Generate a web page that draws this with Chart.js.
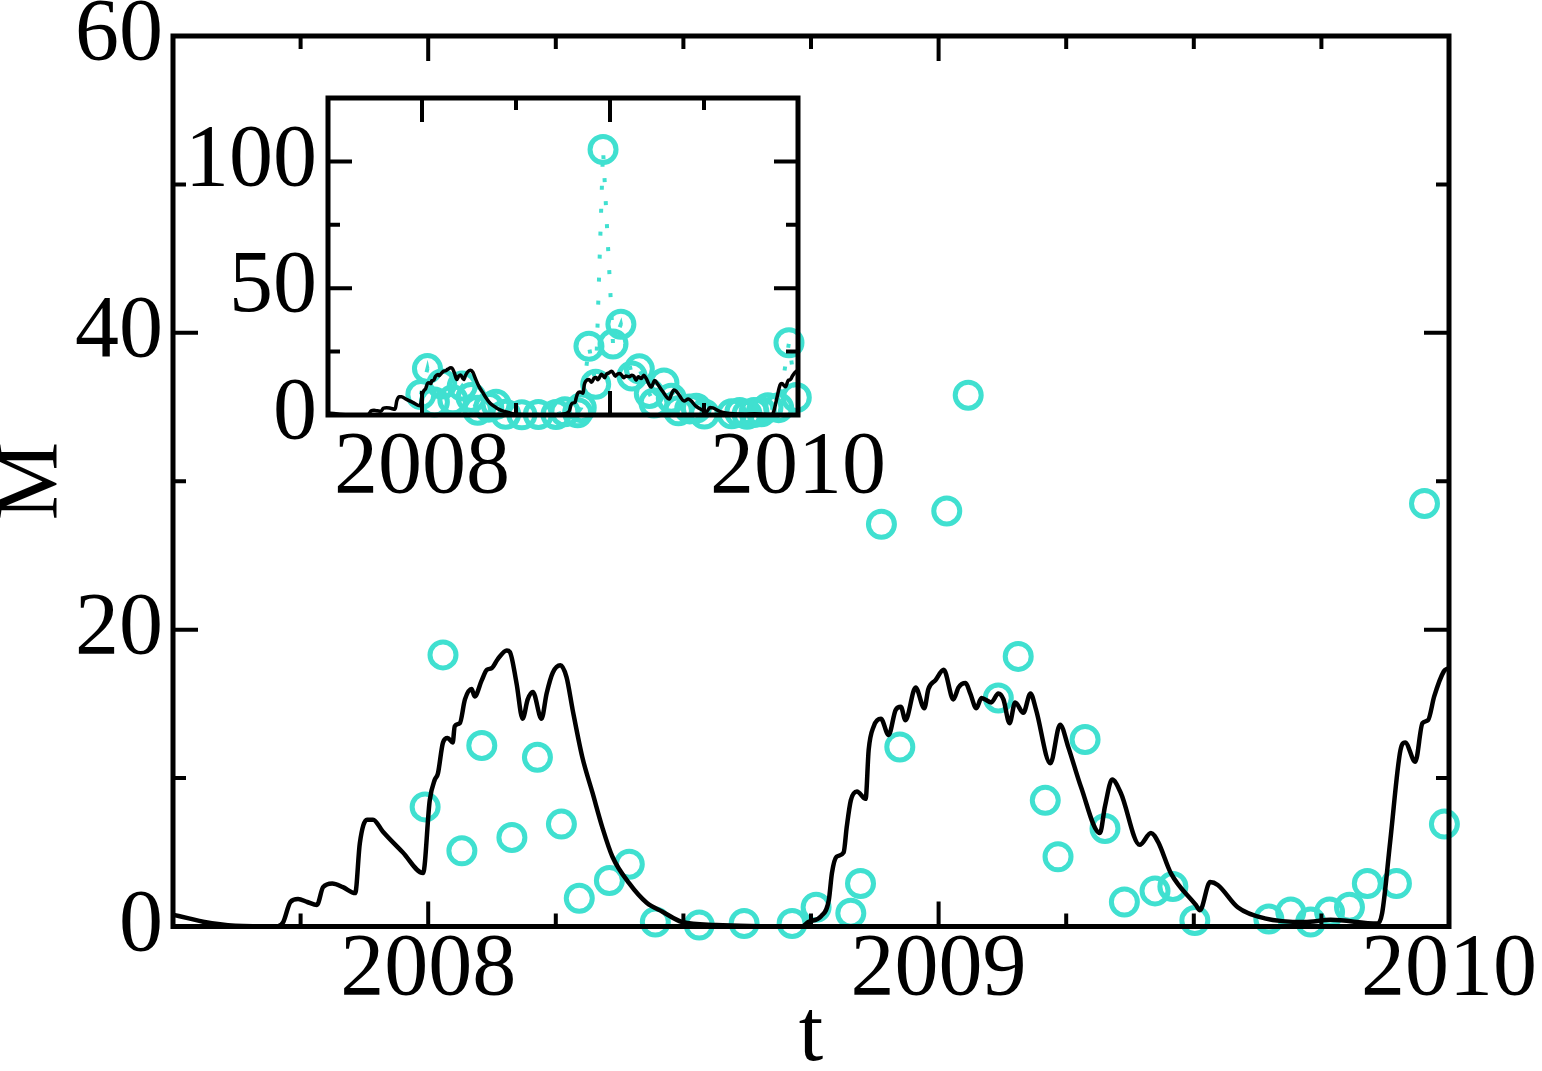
<!DOCTYPE html>
<html>
<head>
<meta charset="utf-8">
<title>M vs t</title>
<script src="https://cdn.jsdelivr.net/npm/chart.js@4.4.1/dist/chart.umd.min.js"></script>
<style>
  html, body { margin: 0; padding: 0; background: #fff; }
  #wrap { position: relative; width: 1542px; height: 1071px; overflow: hidden; }
  #mainChart { position: absolute; left: 0; top: 0; }
  #insetChart { position: absolute; left: 150px; top: 60px; }
</style>
</head>
<body>
<div id="wrap">
  <canvas id="mainChart" width="1542" height="1071"></canvas>
  <canvas id="insetChart" width="760" height="460"></canvas>
</div>
<script>
// model curve (black line)
const modelT = [2007.501, 2007.531, 2007.559, 2007.622, 2007.704, 2007.716, 2007.730, 2007.745, 2007.763, 2007.782, 2007.794,
  2007.812, 2007.833, 2007.857, 2007.866, 2007.880, 2007.892, 2007.911, 2007.950, 2007.990, 2008.003,
  2008.013, 2008.019, 2008.029, 2008.038, 2008.048, 2008.052, 2008.062, 2008.072, 2008.085, 2008.091,
  2008.105, 2008.115, 2008.124, 2008.136, 2008.154, 2008.160, 2008.173, 2008.185, 2008.195, 2008.205,
  2008.222, 2008.232, 2008.244, 2008.259, 2008.271, 2008.283, 2008.302, 2008.322, 2008.341, 2008.361,
  2008.394, 2008.428, 2008.459, 2008.498, 2008.564, 2008.629, 2008.732, 2008.745, 2008.770, 2008.785,
  2008.791, 2008.800, 2008.814, 2008.820, 2008.828, 2008.840, 2008.857, 2008.863, 2008.873, 2008.887,
  2008.902, 2008.916, 2008.926, 2008.935, 2008.955, 2008.972, 2008.980, 2008.994, 2009.010, 2009.029,
  2009.039, 2009.053, 2009.062, 2009.074, 2009.084, 2009.103, 2009.117, 2009.127, 2009.139, 2009.150,
  2009.166, 2009.180, 2009.191, 2009.219, 2009.238, 2009.254, 2009.279, 2009.316, 2009.326, 2009.340,
  2009.357, 2009.394, 2009.416, 2009.430, 2009.455, 2009.504, 2009.512, 2009.532, 2009.547, 2009.586,
  2009.639, 2009.717, 2009.768, 2009.860, 2009.869, 2009.885, 2009.905, 2009.914, 2009.934, 2009.948,
  2009.959, 2009.971, 2009.990, 2009.998];
const modelM = [0.78, 0.55, 0.32, 0.05, 0.0, 0.3, 1.65, 1.85, 1.65, 1.45, 2.65,
  2.9, 2.65, 2.25, 5.6, 7.2, 7.2, 6.4, 5.0, 3.6, 8.5,
  9.9, 10.3, 12.4, 12.7, 12.4, 13.5, 13.7, 15.3, 16.0, 15.5,
  16.6, 17.3, 17.4, 18.0, 18.6, 18.5, 16.4, 14.0, 15.3, 15.8,
  14.0, 15.7, 17.1, 17.6, 16.8, 14.6, 11.4, 9.0, 6.7, 4.7,
  2.9, 1.6, 1.0, 0.3, 0.1, 0.03, 0.0, 0.3, 0.7, 1.8,
  3.6, 4.7, 5.0, 6.7, 8.5, 9.1, 8.6, 11.9, 13.5, 14.0,
  12.9, 14.6, 14.8, 13.9, 16.1, 14.7, 16.0, 16.6, 17.3, 15.3,
  16.1, 16.4, 15.7, 14.7, 15.4, 15.1, 15.7, 15.3, 13.7, 15.1,
  14.4, 15.7, 14.6, 11.0, 13.6, 12.1, 9.4, 6.3, 8.1, 9.9,
  9.0, 5.5, 6.3, 5.7, 3.6, 1.45, 1.1, 3.0, 2.8, 1.3,
  0.55, 0.3, 0.45, 0.2, 0.9, 5.8, 11.9, 12.4, 11.1, 13.7,
  13.9, 15.5, 17.2, 17.4];

// observations (turquoise circles)
const obsT = [2007.994, 2008.029, 2008.066, 2008.105, 2008.164, 2008.214, 2008.261, 2008.296, 2008.355, 2008.394,
  2008.445, 2008.531, 2008.619, 2008.713, 2008.760, 2008.828, 2008.847, 2008.888, 2008.924, 2008.963,
  2009.016, 2009.058, 2009.117, 2009.156, 2009.209, 2009.234, 2009.287, 2009.326, 2009.364, 2009.424,
  2009.459, 2009.502, 2009.647, 2009.690, 2009.729, 2009.766, 2009.805, 2009.840, 2009.897, 2009.952,
  2009.991];
const obsM = [8.06, 18.3, 5.1, 12.2, 6.0, 11.4, 6.9, 1.9, 3.1, 4.2,
  0.3, 0.1, 0.2, 0.2, 1.3, 0.9, 2.9, 27.1, 12.1, 104.7,
  28.0, 35.8, 15.4, 18.2, 8.5, 4.7, 12.6, 6.6, 1.65, 2.4,
  2.7, 0.4, 0.5, 0.98, 0.3, 0.98, 1.3, 2.9, 2.9, 28.5,
  6.9];

// axes
const mainXLabels = [2008, 2009, 2010];
const mainXMinor = [2007.75, 2008.25, 2008.5, 2008.75, 2009.25, 2009.5, 2009.75];
const mainYLabels = [0, 20, 40, 60];
const mainYMinor = [10, 30, 50];
const insetXLabels = [2008, 2010];
const insetXMajor = [2008, 2009, 2010];
const insetXMinor = [2008.5, 2009.5];
const insetYLabels = [0, 50, 100];
const insetYMinor = [25, 75];

const TURQ = '#40E0D0';
const SERIF = "'Liberation Serif', 'Times New Roman', serif";

Chart.defaults.font.family = SERIF;
Chart.defaults.color = '#000';

const modelPts = modelT.map((t, i) => ({ x: t, y: modelM[i] }));
const obsPts = obsT.map((t, i) => ({ x: t, y: obsM[i] }));

// inward ticks on all four sides + frame
const frameTicks = (o) => ({
  id: 'frameTicks',
  beforeDraw(chart) {
    const a = chart.chartArea, ctx = chart.ctx;
    ctx.save();
    ctx.fillStyle = '#fff';
    ctx.fillRect(a.left, a.top, a.right - a.left, a.bottom - a.top);
    ctx.restore();
  },
  afterDatasetsDraw(chart) {
    const { ctx, chartArea: a, scales: { x, y } } = chart;
    ctx.save();
    ctx.strokeStyle = '#000';
    ctx.lineCap = 'butt';
    ctx.lineWidth = o.tickWidth;
    const xt = (vals, len) => vals.forEach(v => {
      const p = x.getPixelForValue(v);
      ctx.beginPath();
      ctx.moveTo(p, a.bottom); ctx.lineTo(p, a.bottom - len);
      ctx.moveTo(p, a.top); ctx.lineTo(p, a.top + len);
      ctx.stroke();
    });
    const yt = (vals, len) => vals.forEach(v => {
      const p = y.getPixelForValue(v);
      ctx.beginPath();
      ctx.moveTo(a.left, p); ctx.lineTo(a.left + len, p);
      ctx.moveTo(a.right, p); ctx.lineTo(a.right - len, p);
      ctx.stroke();
    });
    xt(o.xMajor, o.major); xt(o.xMinor, o.minor);
    yt(o.yMajor, o.major); yt(o.yMinor, o.minor);
    ctx.lineWidth = o.frameWidth;
    ctx.lineJoin = 'miter';
    ctx.strokeRect(a.left, a.top, a.right - a.left, a.bottom - a.top);
    ctx.restore();
  }
});

const fixTicks = vals => scale => { scale.ticks = vals.map(v => ({ value: v })); };

// main chart
new Chart(document.getElementById('mainChart'), {
  type: 'line',
  data: {
    datasets: [
      {
        data: modelPts, borderColor: '#000', borderWidth: 4.5, pointRadius: 0,
        cubicInterpolationMode: 'monotone', borderJoinStyle: 'round', fill: false, order: 0
      },
      {
        data: obsPts, showLine: false, pointRadius: 13, pointHoverRadius: 13,
        pointBorderWidth: 5, pointBorderColor: TURQ, pointBackgroundColor: 'rgba(0,0,0,0)',
        borderColor: TURQ, clip: false, order: 1
      }
    ]
  },
  options: {
    responsive: false, animation: false, events: [],
    layout: { padding: { left: 0, top: 36, right: 93, bottom: 0 } },
    plugins: { legend: { display: false }, tooltip: { enabled: false } },
    scales: {
      x: {
        type: 'linear', min: 2007.5, max: 2010,
        grid: { display: false, drawTicks: false }, border: { display: false },
        afterBuildTicks: fixTicks(mainXLabels),
        ticks: { autoSkip: false, maxRotation: 0, padding: 0, callback: v => String(v),
          font: { size: 88, lineHeight: 1 } },
        title: { display: true, text: 't', font: { size: 88, lineHeight: 0.75 }, padding: { top: 0, bottom: 1 } },
        afterFit: s => { s.height = 144.5; s.paddingLeft = 0; s.paddingRight = 0; }
      },
      y: {
        type: 'linear', min: 0, max: 60,
        grid: { display: false, drawTicks: false }, border: { display: false },
        afterBuildTicks: fixTicks(mainYLabels),
        ticks: { autoSkip: false, padding: 10, callback: v => String(v),
          font: { size: 88, lineHeight: 0.8 } },
        title: { display: true, text: 'M', font: { size: 88, lineHeight: 0.75 }, padding: 0 },
        afterFit: s => { s.width = 173; s.paddingTop = 0; s.paddingBottom = 0; }
      }
    }
  },
  plugins: [frameTicks({ xMajor: mainXLabels, xMinor: mainXMinor, yMajor: mainYLabels, yMinor: mainYMinor,
    major: 25, minor: 13, tickWidth: 4, frameWidth: 5 })]
});

// inset chart
new Chart(document.getElementById('insetChart'), {
  type: 'line',
  data: {
    datasets: [
      {
        data: modelPts, borderColor: '#000', borderWidth: 3.5, pointRadius: 0,
        cubicInterpolationMode: 'monotone', borderJoinStyle: 'round', fill: false, order: 0
      },
      {
        data: obsPts, showLine: true, borderColor: TURQ, borderWidth: 4, borderDash: [4, 19],
        borderCapStyle: 'butt', pointRadius: 13, pointHoverRadius: 13, pointBorderWidth: 5,
        pointBorderColor: TURQ, pointBackgroundColor: 'rgba(0,0,0,0)', tension: 0, fill: false,
        clip: false, order: 1
      }
    ]
  },
  options: {
    responsive: false, animation: false, events: [],
    layout: { padding: { left: 0, top: 38, right: 112, bottom: 0 } },
    plugins: { legend: { display: false }, tooltip: { enabled: false } },
    scales: {
      x: {
        type: 'linear', min: 2007.5, max: 2010,
        grid: { display: false, drawTicks: false }, border: { display: false },
        afterBuildTicks: fixTicks(insetXLabels),
        ticks: { autoSkip: false, maxRotation: 0, padding: 10, callback: v => String(v),
          font: { size: 88, lineHeight: 1 } },
        afterFit: s => { s.height = 105; s.paddingLeft = 0; s.paddingRight = 0; }
      },
      y: {
        type: 'linear', min: 0, max: 125,
        grid: { display: false, drawTicks: false }, border: { display: false },
        afterBuildTicks: fixTicks(insetYLabels),
        ticks: { autoSkip: false, padding: 11, callback: v => String(v),
          font: { size: 88, lineHeight: 0.8 } },
        afterFit: s => { s.width = 178; s.paddingTop = 0; s.paddingBottom = 0; }
      }
    }
  },
  plugins: [frameTicks({ xMajor: insetXMajor, xMinor: insetXMinor, yMajor: insetYLabels, yMinor: insetYMinor,
    major: 24, minor: 12, tickWidth: 4, frameWidth: 5 })]
});
</script>
</body>
</html>
